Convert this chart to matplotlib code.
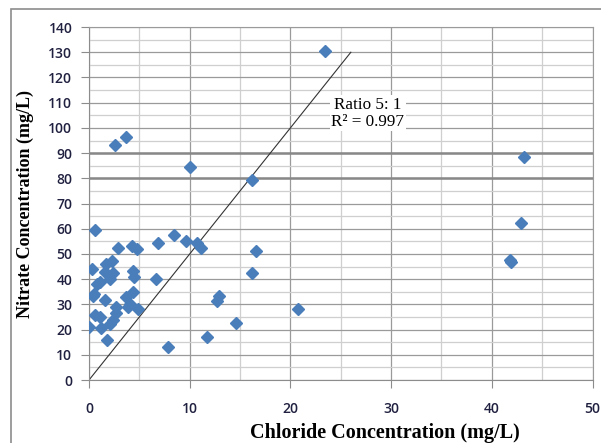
import matplotlib
matplotlib.use("Agg")
import matplotlib.pyplot as plt
from matplotlib.patches import Rectangle
from matplotlib.ticker import MultipleLocator

# chloride (x) and nitrate (y) concentrations, mg/L
chloride = [23.4, 2.6, 3.7, 10.0, 16.2, 43.2, 42.9, 41.8, 41.9, 0.6,
            2.9, 4.3, 4.8, 6.9, 8.4, 9.6, 10.7, 11.1, 16.6, 16.2,
            6.7, 0.3, 1.7, 2.3, 1.6, 2.4, 4.4, 4.5, 1.1, 0.8,
            2.1, 0.5, 0.4, 1.6, 3.7, 4.4, 4.1, 2.7, 2.7, 3.9,
            4.9, 0.6, 1.1, 0.0, 1.2, 2.1, 2.4, 1.8, 7.8, 11.7,
            12.9, 12.7, 14.6, 20.8]
nitrate = [130.5, 93.3, 96.2, 84.4, 79.4, 88.3, 62.3, 47.8, 46.8, 59.5,
           52.3, 53.2, 52.1, 54.4, 57.4, 55.2, 54.4, 52.5, 51.3, 42.3,
           40.1, 44.0, 46.0, 47.3, 43.0, 42.3, 43.3, 40.7, 39.0, 38.0,
           40.2, 34.3, 33.2, 31.7, 32.8, 35.0, 30.2, 28.8, 26.7, 28.9,
           28.3, 25.8, 24.9, 21.2, 20.5, 22.2, 23.8, 15.9, 13.0, 17.2,
           33.2, 31.2, 22.8, 28.2]

# 5:1 reference line
ratio_x = [0, 26]
ratio_y = [0, 130]

fig = plt.figure(figsize=(6.01, 4.43), dpi=100)
ax = fig.add_axes([0.148, 0.142, 0.838, 0.797])

# outer chart border (only left/top visible in the reference)
fig.patches.append(Rectangle((11 / 601, -0.1), 1.2, 1 - 9 / 443 + 0.1,
                             transform=fig.transFigure, fill=False,
                             edgecolor="#8c8c8c", lw=1.2))

ax.set_xlim(0, 50)
ax.set_ylim(0, 140)
ax.xaxis.set_major_locator(MultipleLocator(10))
ax.xaxis.set_minor_locator(MultipleLocator(5))
ax.yaxis.set_major_locator(MultipleLocator(10))
ax.yaxis.set_minor_locator(MultipleLocator(5))
ax.grid(which="major", color="#9a9a9a", lw=0.9)
ax.grid(which="minor", color="#cfcfcf", lw=0.9)
for yv in (80, 90):
    ax.axhline(yv, color="#888888", lw=1.8, zorder=1)
ax.set_axisbelow(True)

ax.tick_params(which="major", direction="out", length=6, color="#8c8c8c",
               labelsize=10, labelcolor="#202040", pad=6)
ax.tick_params(which="minor", length=0)
ax.tick_params(axis="x", pad=10)
for lab in ax.get_xticklabels() + ax.get_yticklabels():
    lab.set_family(["Open Sans", "DejaVu Sans"])
    lab.set_fontweight("semibold")
for s in ax.spines.values():
    s.set_color("#9a9a9a")
ax.spines["left"].set_color("#8c8c8c")
ax.spines["bottom"].set_color("#8c8c8c")

ax.plot(ratio_x, ratio_y, color="#333333", lw=0.8, zorder=2)
ax.plot(chloride, nitrate, linestyle="none", marker="D", markersize=6.5,
        color="#4a7ebb", zorder=3)

ax.text(27.7, 105.8, "Ratio 5: 1\nR² = 0.997", ha="center", va="center",
        fontsize=12.3, family="Liberation Serif", linespacing=1.1,
        bbox=dict(facecolor="white", edgecolor="none", pad=1), zorder=4)

ax.set_xlabel("Chloride Concentration (mg/L)", family="Liberation Serif",
              fontweight="bold", fontsize=14.5)
ax.xaxis.set_label_coords(0.588, -0.122)
ax.set_ylabel("Nitrate Concentration (mg/L)", family="Liberation Serif",
              fontweight="bold", fontsize=13)
ax.yaxis.set_label_coords(-0.11, 0.5)

fig.savefig("out.png", dpi=100)
